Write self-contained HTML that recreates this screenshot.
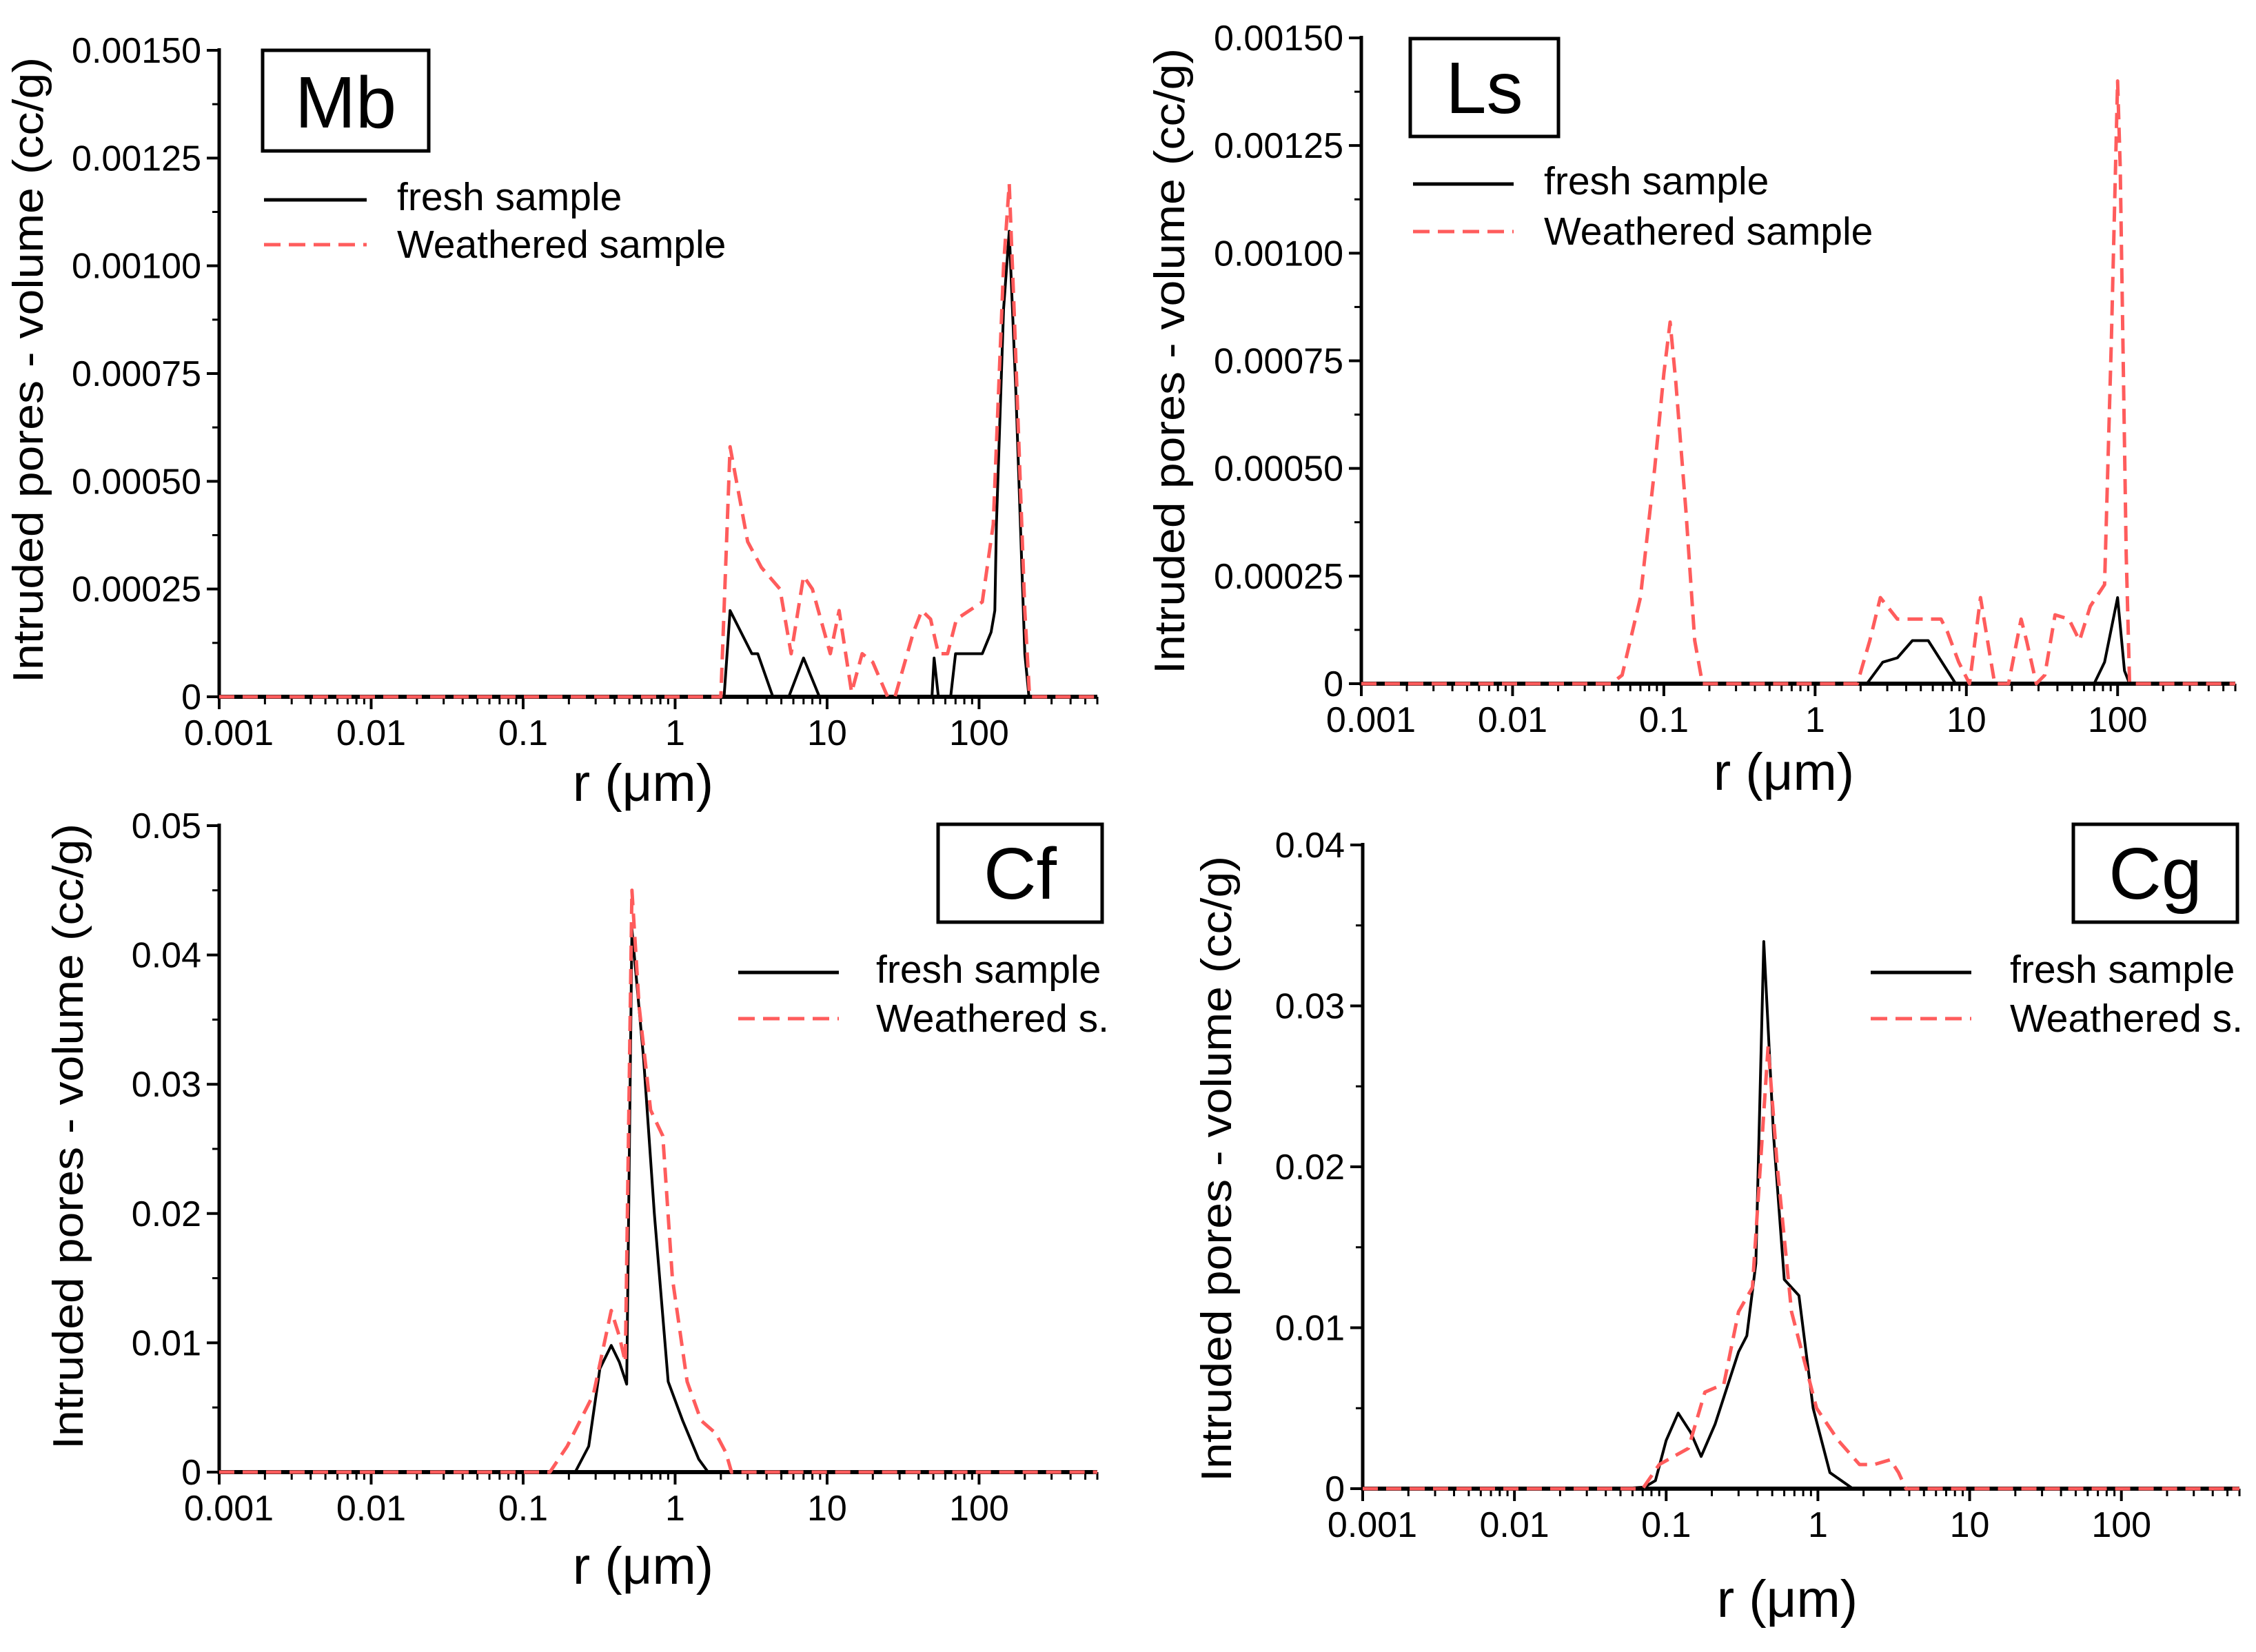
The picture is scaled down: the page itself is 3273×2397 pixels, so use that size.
<!DOCTYPE html>
<html><head><meta charset="utf-8"><style>
html,body{margin:0;padding:0;background:#fff;}
svg{display:block;font-family:"Liberation Sans",Arial,sans-serif;}
</style></head><body>
<svg id="chart" width="3273" height="2397" viewBox="0 0 3273 2397" xmlns="http://www.w3.org/2000/svg"></svg>
<script>
// ---- data (r in µm, volume in cc/g) ----
const mbFreshR = [0.001,2.1,2.3,3.2,3.5,4.4,5.6,7.0,8.9,49,50.6,54,65,70,105,120,127,130,145,158,175,200,213,600];
const mbFreshV = [0,0,0.0002,0.0001,0.0001,0,0,0.00009,0,0,0.00009,0,0,0.0001,0.0001,0.00015,0.0002,0.0004,0.0009,0.00108,0.0007,0.0001,0,0];
const mbWeathR = [0.001,2.0,2.3,3.0,3.7,4.9,5.8,7.0,8.0,10.5,12,14.5,17,20,25,28,37,42,48,54,62,71,105,124,145,158,170,200,215,600];
const mbWeathV = [0,0,0.00058,0.00036,0.0003,0.00025,0.0001,0.00028,0.00025,0.0001,0.0002,0.00001,0.0001,0.00008,0,0,0.00015,0.0002,0.00018,0.0001,0.0001,0.00018,0.00022,0.0004,0.001,0.00119,0.0009,0.0002,0,0];

const lsFreshR = [0.001,2.2,2.8,3.5,4.4,5.6,8.5,70,82,100,111,120,600];
const lsFreshV = [0,0,0.00005,0.00006,0.0001,0.0001,0,0,0.00005,0.0002,0.00003,0,0];
const lsWeathR = [0.001,0.045,0.053,0.07,0.087,0.1,0.11,0.12,0.14,0.16,0.18,1.9,2.3,2.7,3.5,6.8,7.5,8.9,10.5,12.4,13.8,15.4,19,23,25,29,33,38.6,47.6,56,66,82,91,100,104,114,120,600];
const lsWeathV = [0,0,0.00002,0.0002,0.0005,0.00072,0.00084,0.0007,0.0004,0.0001,0,0,0.0001,0.0002,0.00015,0.00015,0.00012,0.00005,0,0.0002,0.0001,0,0,0.00015,0.0001,0,0.00002,0.00016,0.00015,0.0001,0.00018,0.00023,0.0008,0.0014,0.0012,0.0003,0,0];

const cfFreshR = [0.001,0.22,0.27,0.32,0.38,0.43,0.48,0.52,0.62,0.73,0.90,1.12,1.43,1.65,600];
const cfFreshV = [0,0,0.002,0.008,0.0098,0.0085,0.0068,0.042,0.032,0.02,0.007,0.004,0.001,0,0];
const cfWeathR = [0.001,0.15,0.195,0.29,0.38,0.43,0.47,0.52,0.58,0.69,0.83,0.96,1.2,1.48,1.85,2.16,2.35,600];
const cfWeathV = [0,0,0.002,0.006,0.0125,0.0105,0.0085,0.045,0.036,0.028,0.026,0.015,0.007,0.004,0.003,0.0015,0,0];

const cgFreshR = [0.001,0.052,0.072,0.085,0.1,0.12,0.145,0.17,0.21,0.3,0.34,0.39,0.44,0.51,0.6,0.75,0.93,1.2,1.7,600];
const cgFreshV = [0,0,0.0001,0.0005,0.003,0.0047,0.0035,0.002,0.004,0.0085,0.0095,0.014,0.034,0.022,0.013,0.012,0.005,0.001,0,0];
const cgWeathR = [0.001,0.07,0.09,0.14,0.18,0.24,0.3,0.37,0.47,0.54,0.67,0.98,1.36,1.88,2.35,3.0,3.4,3.8,600];
const cgWeathV = [0,0,0.0015,0.0025,0.006,0.0065,0.011,0.0125,0.0275,0.02,0.011,0.005,0.003,0.0015,0.0015,0.0018,0.001,0,0];

const xTickLabels = ["0.001","0.01","0.1","1","10","100"];
const mbYTicks = ["0","0.00025","0.00050","0.00075","0.00100","0.00125","0.00150"];
const cfYTicks = ["0","0.01","0.02","0.03","0.04","0.05"];
const cgYTicks = ["0","0.01","0.02","0.03","0.04"];

const NS = "http://www.w3.org/2000/svg";
const svg = document.getElementById("chart");
function mk(tag, attrs, parent){
  const e = document.createElementNS(NS, tag);
  for (const k in attrs) e.setAttribute(k, attrs[k]);
  (parent||svg).appendChild(e);
  return e;
}

function panel(p){
  const g = mk("g", {});
  
  
  const lx0 = -3, lx1 = Math.log10(600);
  const xs = r => p.x0 + (Math.log10(r) - lx0) / (lx1 - lx0) * (p.x1 - p.x0);
  const ys = v => p.y0 - v / p.ymax * (p.y0 - p.yt);

  const yt = p.yticks;
  const step = p.ymax / (yt.length - 1);
  for (let i = 0; i < yt.length; i++) {
    const y = ys(i * step);
    const t = mk("line", {x1:p.x0-18, x2:p.x0, y1:y, y2:y, stroke:"#000","stroke-width":4}, g);
    
    
    const lb = mk("text", {x:p.x0-26, y:y+18, "font-size":52, "text-anchor":"end"}, g);
    lb.textContent = yt[i];
    
    
    if (i < yt.length - 1) {
      const ym = ys((i + 0.5) * step);
      const m = mk("line", {x1:p.x0-10, x2:p.x0, y1:ym, y2:ym, stroke:"#000","stroke-width":3}, g);
      
      
    }
  }
  for (let d = -3; d <= 2; d++) {
    for (let k = 1; k <= 9; k++) {
      const r = k * Math.pow(10, d);
      if (r > 600) break;
      const x = xs(r);
      const major = k === 1;
      const t = mk("line", {x1:x, x2:x, y1:p.y0, y2:p.y0 + (major?18:11), stroke:"#000","stroke-width":major?4:3}, g);
      
      
    }
  }
  for (let i = 0; i < xTickLabels.length; i++) {
    const x = xs(Math.pow(10, i - 3));
    const lb = mk("text", {x:x + (i===0?14:0), y:p.y0+70, "font-size":52, "text-anchor":"middle"}, g);
    lb.textContent = xTickLabels[i];
    
    
  }
  const ax = mk("line", {x1:p.x0, x2:p.x1, y1:p.y0, y2:p.y0, stroke:"#000","stroke-width":6}, g);
  
  
  const ay = mk("line", {x1:p.x0, x2:p.x0, y1:p.yt-3, y2:p.y0+3, stroke:"#000","stroke-width":5}, g);
  
  

  function series(R, V, fresh){
    const pts = R.map((r, i) => xs(r).toFixed(1) + "," + ys(V[i]).toFixed(1)).join(" ");
    const pl = mk("polyline", fresh
      ? {points:pts, fill:"none", stroke:"#000", "stroke-width":4, "stroke-linejoin":"round"}
      : {points:pts, fill:"none", stroke:"#ff5c5c", "stroke-width":5, "stroke-dasharray":"22 12", "stroke-linejoin":"round"}, g);
    
    
  }
  series(p.fR, p.fV, true);
  series(p.wR, p.wV, false);

  const yl = mk("text", {x:0, y:0, "font-size":62, "text-anchor":"middle",
     transform:`translate(${p.ytx},${p.yty}) rotate(-90)`, textLength:908, lengthAdjust:"spacingAndGlyphs"}, g);
  yl.textContent = "Intruded pores - volume (cc/g)";
  
  
  const xl = mk("text", {x:p.xtx, y:p.xty, "font-size":76, "text-anchor":"middle"}, g);
  xl.textContent = "r (\u03bcm)";
  
  

  const b = p.box;
  const br = mk("rect", {x:b[0], y:b[1], width:b[2]-b[0], height:b[3]-b[1], fill:"#fff", stroke:"#000", "stroke-width":5}, g);
  
  
  const bt = mk("text", {x:(b[0]+b[2])/2, y:b[3]-34, "font-size":106, "text-anchor":"middle"}, g);
  bt.textContent = p.name;
  
  

  const L = p.leg;
  const l1 = mk("line", {x1:L.x0, x2:L.x1, y1:L.y1, y2:L.y1, stroke:"#000", "stroke-width":5}, g);
  
  
  const t1 = mk("text", {x:L.tx, y:L.y1+15, "font-size":57}, g);
  t1.textContent = "fresh sample";
  
  
  const l2 = mk("line", {x1:L.x0, x2:L.x1, y1:L.y2, y2:L.y2, stroke:"#ff5c5c", "stroke-width":5, "stroke-dasharray":"24 12"}, g);
  
  
  const t2 = mk("text", {x:L.tx, y:L.y2+19, "font-size":57}, g);
  t2.textContent = L.wlabel;
  
  
}

panel({name:"Mb", x0:318, x1:1592, yt:73, y0:1011, ymax:0.0015, yticks:mbYTicks,
  fR:mbFreshR, fV:mbFreshV, wR:mbWeathR, wV:mbWeathV,
  ytx:62, yty:537, xtx:933, xty:1162, box:[381,73,622,219],
  leg:{x0:383,x1:532,y1:290,y2:355,tx:576,wlabel:"Weathered sample"}});
panel({name:"Ls", x0:1975, x1:3243, yt:55, y0:992, ymax:0.0015, yticks:mbYTicks,
  fR:lsFreshR, fV:lsFreshV, wR:lsWeathR, wV:lsWeathV,
  ytx:1718, yty:524, xtx:2588, xty:1146, box:[2046,56,2261,198],
  leg:{x0:2050,x1:2196,y1:267,y2:336,tx:2240,wlabel:"Weathered sample"}});
panel({name:"Cf", x0:318, x1:1592, yt:1198, y0:2136, ymax:0.05, yticks:cfYTicks,
  fR:cfFreshR, fV:cfFreshV, wR:cfWeathR, wV:cfWeathV,
  ytx:120, yty:1649, xtx:933, xty:2298, box:[1361,1196,1599,1338],
  leg:{x0:1071,x1:1217,y1:1411,y2:1478,tx:1271,wlabel:"Weathered s."}});
panel({name:"Cg", x0:1977, x1:3249, yt:1226, y0:2160, ymax:0.04, yticks:cgYTicks,
  fR:cgFreshR, fV:cgFreshV, wR:cgWeathR, wV:cgWeathV,
  ytx:1786, yty:1696, xtx:2593, xty:2346, box:[3008,1196,3246,1338],
  leg:{x0:2714,x1:2860,y1:1411,y2:1478,tx:2916,wlabel:"Weathered s."}});
</script>
</body></html>
